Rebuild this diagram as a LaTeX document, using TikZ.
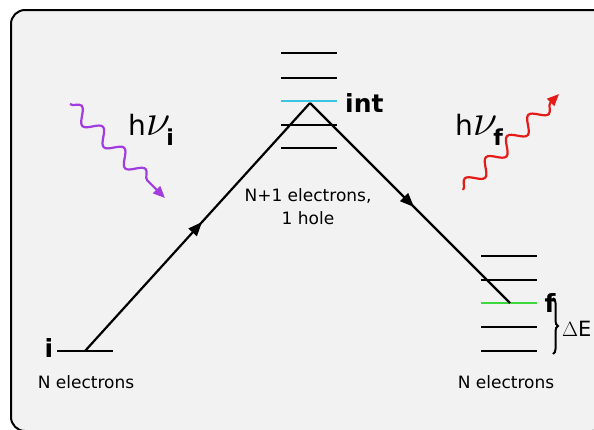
\documentclass[tikz,border=0pt]{standalone}
\usepackage{amsmath}
\usepackage{graphicx}
\usepackage{fontspec}
\setmainfont{DejaVu Sans}
\usepackage{tikz}
\usetikzlibrary{arrows.meta,decorations.pathmorphing,decorations.pathreplacing,decorations.markings}
\definecolor{RxPanel}{HTML}{F2F2F2}
\definecolor{RxPurple}{HTML}{A23BE0}
\definecolor{RxRed}{HTML}{E41B17}
\definecolor{RxCyan}{HTML}{3CC4E4}
\definecolor{RxGreen}{HTML}{3CD83C}
\newcommand{\hnu}[1]{h\scalebox{1.8}{\(\nu\)}\kern-4pt\raisebox{-10pt}{\fontsize{22}{22}\selectfont\bfseries #1}}

\begin{document}
\begin{tikzpicture}[x=1pt,y=-1pt,
    lvl/.style={line width=2.3pt},
    arr/.style={line width=2.2pt,postaction={decorate},decoration={markings,mark=at position 0.52 with {\arrow{Triangle[length=14pt,width=11pt]}}}},
    photon/.style={line width=2.2pt,-{Triangle[length=12pt,width=10pt]},decorate,decoration={snake,segment length=30pt,amplitude=7pt,post length=10pt}},
    txt/.style={inner sep=0pt,font=\fontsize{17}{23}\selectfont},
    tag/.style={inner sep=0pt,font=\fontsize{25}{28}\selectfont\bfseries}
  ]
    \useasboundingbox (0,0) rectangle (594,429);
    \clip (0,0) rectangle (594,429);
    \draw[line width=2pt,fill=RxPanel,rounded corners=14pt] (11,10) rectangle (606,431);
    % levels
    \draw[lvl] (57,351) -- (113,351);
    \foreach \y in {53,78,125,148} \draw[lvl] (281,\y) -- (337,\y);
    \draw[lvl,RxCyan] (281,101) -- (337,101);
    \foreach \y in {256,280,327,351} \draw[lvl] (481,\y) -- (537,\y);
    \draw[lvl,RxGreen] (481,303) -- (537,303);
    % path of the process
    \coordinate (ini) at (85,351);
    \coordinate (top) at (310,103);
    \coordinate (fin) at (510,303);
    \draw[arr] (ini) -- (top);
    \draw[arr] (top) -- (fin);
    % photons
    \coordinate (pin) at (70,104);
    \coordinate (pinend) at (165,198);
    \coordinate (pout) at (463,190);
    \coordinate (poutend) at (559,94);
    \draw[photon,RxPurple] (pin) -- (pinend);
    \draw[photon,RxRed] (pout) -- (poutend);
    \node[anchor=base west,inner sep=0pt,font=\fontsize{28}{30}\selectfont] (hni) at (128,135) {\hnu{i}};
    \node[anchor=base west,inner sep=0pt,font=\fontsize{28}{30}\selectfont] (hnf) at (455,135) {\hnu{f}};
    % labels
    \node[tag,anchor=base] (ilab) at (49,357) {i};
    \node[tag,anchor=base west] (intlab) at (345,112) {int};
    \node[tag,anchor=base] (flab) at (550,312) {f};
    \node[txt,anchor=base] (nl) at (86,388) {N electrons};
    \node[txt,anchor=base] (nr) at (506,388) {N electrons};
    \node[txt,anchor=north,align=center] (mid) at (308,188) {N+1 electrons,\\1 hole};
    \draw[line width=2pt,decorate,decoration={brace,amplitude=5pt}] (553,298) -- (553,354);
    \node[inner sep=0pt,anchor=base west,font=\fontsize{21}{24}\selectfont] (de) at (562,336) {\(\Delta\)E};
  \end{tikzpicture}
\end{document}
